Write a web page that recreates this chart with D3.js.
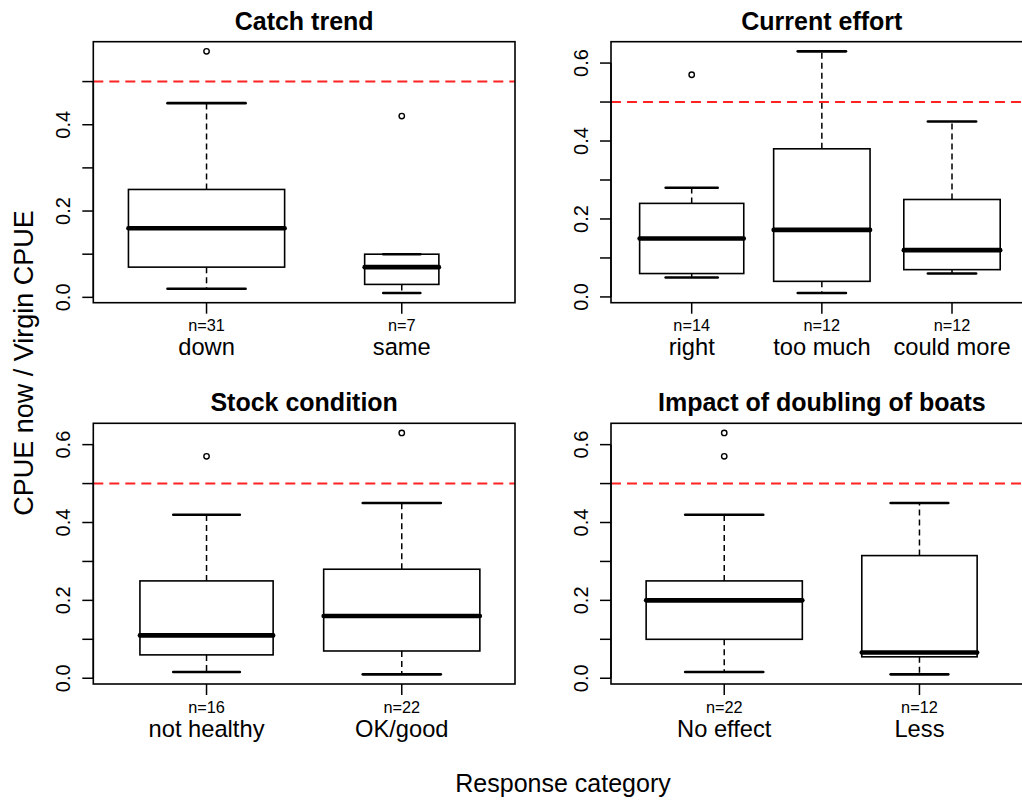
<!DOCTYPE html>
<html>
<head>
<meta charset="utf-8">
<script src="https://cdn.jsdelivr.net/npm/d3@7"></script>
<style>
  html, body { margin: 0; padding: 0; background: #fff; }
  svg { display: block; }
  text { font-family: "Liberation Sans", Arial, Helvetica, sans-serif; fill: #000; }
</style>
</head>
<body>
<svg id="chart" width="1022" height="800"></svg>
<script>
// ---- data ----
const titles = ["Catch trend", "Current effort", "Stock condition", "Impact of doubling of boats"];
const categories = [["down", "same"], ["right", "too much", "could more"], ["not healthy", "OK/good"], ["No effect", "Less"]];
const counts = [[31, 7], [14, 12, 12], [16, 22], [22, 12]];
const whiskerLow = [[0.02, 0.01], [0.05, 0.01, 0.06], [0.016, 0.01], [0.016, 0.01]];
const q1 = [[0.07, 0.03], [0.06, 0.04, 0.07], [0.06, 0.07], [0.10, 0.055]];
const median = [[0.16, 0.07], [0.15, 0.172, 0.12], [0.11, 0.16], [0.20, 0.066]];
const q3 = [[0.25, 0.10], [0.24, 0.38, 0.25], [0.25, 0.28], [0.25, 0.315]];
const whiskerHigh = [[0.45, 0.10], [0.28, 0.63, 0.45], [0.42, 0.45], [0.42, 0.45]];
const outliers = [[[0.57], [0.42]], [[0.57], [], []], [[0.57], [0.63]], [[0.57, 0.63], []]];
const yTickValues = [0, 0.1, 0.2, 0.3, 0.4, 0.5, 0.6];
const yTickLabels = ["0.0", "", "0.2", "", "0.4", "", "0.6"];
const refLine = 0.5;
const yTitle = "CPUE now / Virgin CPUE";
const xTitle = "Response category";

// ---- layout ----
const svg = d3.select("#chart");
const colX = [[93.3, 515], [611, 1032.7]];
const rowY = [[41.7, 302.7], [423.3, 684]];

titles.forEach((title, p) => {
  const [x0, x1] = colX[p % 2];
  const [y0, y1] = rowY[Math.floor(p / 2)];
  const n = categories[p].length;
  const g = svg.append("g");

  const allVals = [].concat(whiskerLow[p], whiskerHigh[p], q1[p], q3[p], median[p], ...outliers[p]);
  const [mn, mx] = d3.extent(allVals);
  const pad = (mx - mn) * 0.04;
  const y = d3.scaleLinear().domain([mn - pad, mx + pad]).range([y1, y0]);
  const x = d3.scaleLinear().domain([0.5 - 0.04 * n, n + 0.5 + 0.04 * n]).range([x0, x1]);

  const maxSqrt = d3.max(counts[p], c => Math.sqrt(c));
  const unit = x(2) - x(1);

  categories[p].forEach((cat, i) => {
    const cx = x(i + 1);
    const bw = 0.8 * Math.sqrt(counts[p][i]) / maxSqrt * unit;
    const cw = bw / 2;
    // whiskers
    [[q3[p][i], whiskerHigh[p][i]], [q1[p][i], whiskerLow[p][i]]].forEach(([a, b]) => {
      if (a !== b) {
        g.append("line").attr("x1", cx).attr("x2", cx).attr("y1", y(a)).attr("y2", y(b))
          .attr("stroke", "#000").attr("stroke-width", 1.5).attr("stroke-dasharray", "6,4");
      }
    });
    // staples
    [whiskerHigh[p][i], whiskerLow[p][i]].forEach(v => {
      g.append("line").attr("x1", cx - cw / 2).attr("x2", cx + cw / 2).attr("y1", y(v)).attr("y2", y(v))
        .attr("stroke", "#000").attr("stroke-width", 2.6).attr("stroke-linecap", "round");
    });
    // box
    g.append("rect").attr("x", cx - bw / 2).attr("width", bw)
      .attr("y", y(q3[p][i])).attr("height", y(q1[p][i]) - y(q3[p][i]))
      .attr("fill", "none").attr("stroke", "#000").attr("stroke-width", 1.6);
    // median
    g.append("line").attr("x1", cx - bw / 2).attr("x2", cx + bw / 2)
      .attr("y1", y(median[p][i])).attr("y2", y(median[p][i]))
      .attr("stroke", "#000").attr("stroke-width", 4.6).attr("stroke-linecap", "round");
    // outliers
    outliers[p][i].forEach(v => {
      g.append("circle").attr("cx", cx).attr("cy", y(v)).attr("r", 2.7)
        .attr("fill", "none").attr("stroke", "#000").attr("stroke-width", 1.4);
    });
    // x tick + labels
    g.append("line").attr("x1", cx).attr("x2", cx).attr("y1", y1).attr("y2", y1 + 11)
      .attr("stroke", "#000").attr("stroke-width", 1.5);
    g.append("text").attr("x", cx).attr("y", y1 + 28.5).attr("text-anchor", "middle")
      .attr("font-size", 16.3).text("n=" + counts[p][i]);
    g.append("text").attr("x", cx).attr("y", y1 + 52.5).attr("text-anchor", "middle")
      .attr("font-size", 23.7).text(cat);
  });

  // reference line
  g.append("line").attr("x1", x0).attr("x2", x1).attr("y1", y(refLine)).attr("y2", y(refLine))
    .attr("stroke", "#f22").attr("stroke-width", 2).attr("stroke-dasharray", "10,6");

  // y axis
  const ticks = yTickValues.map((v, k) => ({ v, label: yTickLabels[k] }))
    .filter(t => t.v >= y.domain()[0] && t.v <= y.domain()[1]);
  g.append("line").attr("x1", x0).attr("x2", x0)
    .attr("y1", y(ticks[0].v)).attr("y2", y(ticks[ticks.length - 1].v))
    .attr("stroke", "#000").attr("stroke-width", 1.5);
  ticks.forEach(t => {
    g.append("line").attr("x1", x0 - 11).attr("x2", x0).attr("y1", y(t.v)).attr("y2", y(t.v))
      .attr("stroke", "#000").attr("stroke-width", 1.5);
    if (t.label) {
      g.append("text").attr("transform", `translate(${x0 - 23},${y(t.v)}) rotate(-90)`)
        .attr("text-anchor", "middle").attr("font-size", 20).text(t.label);
    }
  });

  // frame
  g.append("rect").attr("x", x0).attr("y", y0).attr("width", x1 - x0).attr("height", y1 - y0)
    .attr("fill", "none").attr("stroke", "#000").attr("stroke-width", 1.6);

  // title
  g.append("text").attr("x", (x0 + x1) / 2).attr("y", y0 - 12).attr("text-anchor", "middle")
    .attr("font-size", 25).attr("font-weight", "bold").text(title);
});

// outer axis titles
svg.append("text").attr("transform", "translate(33,363) rotate(-90)")
  .attr("text-anchor", "middle").attr("font-size", 27).text(yTitle);
svg.append("text").attr("x", 563).attr("y", 792).attr("text-anchor", "middle")
  .attr("font-size", 25).text(xTitle);
</script>
</body>
</html>
